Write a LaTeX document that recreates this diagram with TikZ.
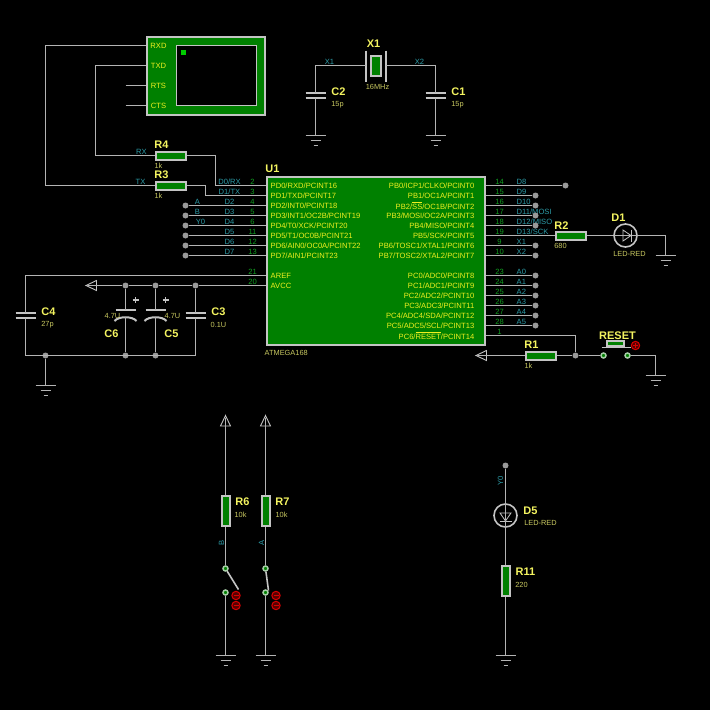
\documentclass[tikz,border=0pt]{standalone}
\usepackage{fontspec}
\setmainfont{Liberation Sans}
\definecolor{wirec}{HTML}{B4B4B4}
\definecolor{edgec}{HTML}{C4C4C4}
\definecolor{boardc}{HTML}{008000}
\definecolor{refc}{HTML}{F4F460}
\definecolor{valc}{HTML}{C8C860}
\definecolor{netc}{HTML}{2C9CA8}
\definecolor{numc}{HTML}{10A020}
\definecolor{chipc}{HTML}{F0F020}
\tikzset{
	wire/.style={draw=wirec, line width=1pt},
	res/.style={draw=edgec, fill=boardc, line width=2pt, minimum width=30pt, minimum height=8pt, inner sep=0pt},
	resv/.style={res, minimum width=8pt, minimum height=30pt},
	dot/.style={circle, fill=wirec!85!black, minimum size=6pt, inner sep=0pt},
	pad/.style={circle, draw=edgec!85!green, fill=green!50!black, line width=1.5pt, minimum size=5pt, inner sep=0pt},
	ref/.style={text=refc, font=\bfseries\fontsize{11}{11}\selectfont, inner sep=0pt},
	val/.style={text=valc, font=\fontsize{7.4}{7.4}\selectfont, inner sep=0pt},
	net/.style={text=netc, font=\fontsize{7.6}{7.6}\selectfont, inner sep=0pt},
	num/.style={text=numc, font=\fontsize{7.6}{7.6}\selectfont, inner sep=0pt},
	chiptxt/.style={text=chipc, font=\fontsize{7.6}{7.6}\selectfont, inner sep=0pt},
	gnd/.pic={
		\coordinate (-t) at (0,0);
		\draw[wire] (-10,0) -- (10,0);
		\draw[wire] (-5,5) -- (5,5);
		\draw[wire] (-2,10) -- (2,10);
	},
	capn/.pic={
		\coordinate (-t) at (0,-2.5);
		\coordinate (-b) at (0,2.5);
		\draw[edgec, line width=2pt] (-10,-2.5) -- (10,-2.5);
		\draw[edgec, line width=2pt] (-10,2.5) -- (10,2.5);
		\draw[wirec, line width=1.6pt] (0,-8) -- (0,-2.5);
		\draw[wirec, line width=1.6pt] (0,2.5) -- (0,9);
	},
	pcap/.pic={
		\coordinate (-t) at (0,-3.5);
		\coordinate (-b) at (0,3.5);
		\draw[edgec, line width=2pt] (-10,-3.5) -- (10,-3.5);
		\draw[edgec, line width=2pt] (-11,8) .. controls (-7,3) and (7,3) .. (11,8);
		\draw[wirec, line width=1.6pt] (0,-9) -- (0,-3.5);
		\draw[wirec, line width=1.6pt] (0,3.5) -- (0,12);
		\draw[edgec, line width=1.4pt] (7,-13) -- (13,-13);
		\draw[edgec, line width=1.4pt] (10,-16) -- (10,-10);
	},
	led/.pic={
		\coordinate (-l) at (-12.5,0);
		\coordinate (-r) at (12.5,0);
		\draw[edgec, line width=1.6pt] (0,0) circle (11.5pt);
		\draw[wirec, line width=0.8pt] (-12,0) -- (12,0);
		\draw[edgec, line width=0.8pt] (-2.5,-5.5) -- (5.5,0) -- (-2.5,5.5) -- cycle;
		\draw[edgec, line width=1pt] (5.5,-6) -- (5.5,6);
	},
	term/.pic={
		\coordinate (-t) at (2,0);
		\draw[edgec, line width=0.9pt] (0,0) -- (10.5,-5) -- (10.5,5) -- cycle;
	},
	actb/.pic={
		\draw[red!85!black, fill=red!35!black, line width=1pt] (0,0) circle (4.2pt);
		\draw[red!85!black, line width=0.9pt] (-2.5,0) -- (2.5,0);
	},
	actp/.pic={
		\draw[red!85!black, fill=red!35!black, line width=1pt] (0,0) circle (4.2pt);
		\draw[red!85!black, line width=0.9pt] (-2.5,0) -- (2.5,0);
		\draw[red!85!black, line width=0.9pt] (0,-2.5) -- (0,2.5);
	},
}
\begin{document}
\begin{tikzpicture}[x=1pt, y=-1pt]
	\fill[black] (0,0) rectangle (710,710);
	\useasboundingbox (0,0) rectangle (710,710);
	\begin{scope}[shift={(0.5,0.5)}]

	\node[draw=edgec, fill=boardc, line width=2pt, minimum width=118pt, minimum height=78pt, inner sep=0pt] (V1) at (205,75) {};
	\node[draw=edgec, fill=black, line width=1pt, minimum width=80pt, minimum height=60pt, inner sep=0pt] (scr) at (215.5,75) {};
	\node[fill=green!80!black, minimum size=5pt, inner sep=0pt] (led0) at (183,52) {};
	\node[chiptxt] (rxd) at (158,45) {RXD};
	\node[chiptxt] (txd) at (158,65) {TXD};
	\node[chiptxt] (rts) at (158,85) {RTS};
	\node[chiptxt] (cts) at (158,105) {CTS};
	\coordinate (rxdp) at (145,45);
	\coordinate (txdp) at (145,65);
	\coordinate (rtsp) at (145,85);
	\coordinate (ctsp) at (145,105);
	\coordinate (rtsf) at (125,85);
	\coordinate (ctsf) at (125,105);
	\draw[wire] (rtsf) -- (rtsp);
	\draw[wire] (ctsf) -- (ctsp);

	\node[res] (R4) at (170,155) {};
	\node[res] (R3) at (170,185) {};
	\node[ref] (lR4) at (161,144) {R4};
	\node[ref] (lR3) at (161,174) {R3};
	\node[val] (vR4) at (158,165) {1k};
	\node[val] (vR3) at (158,195) {1k};
	\node[net] (nRX) at (141,151) {RX};
	\node[net] (nTX) at (140,181) {TX};

	\node[draw=edgec, fill=boardc, line width=2pt, minimum width=218pt, minimum height=168pt, inner sep=0pt] (U1) at (375,260) {};
	\node[ref] (lU1) at (272,168) {U1};
	\node[val, anchor=west] (vU1) at (264,352) {ATMEGA168};

	\coordinate (a0) at (45,45);
	\coordinate (a1) at (45,185);
	\coordinate (b0) at (95,65);
	\coordinate (b1) at (95,155);
	\coordinate (c0) at (215,155);
	\coordinate (c1) at (215,185);
	\coordinate (d0) at (205,185);
	\coordinate (d1) at (205,195);
	\draw[wire] (rxdp) -- (a0) -- (a1) -- (R3.west);
	\draw[wire] (txdp) -- (b0) -- (b1) -- (R4.west);
	\draw[wire] (R4.east) -- (c0) -- (c1) -- (c1 -| U1.west);
	\draw[wire] (R3.east) -- (d0) -- (d1) -- (d1 -| U1.west);

	\foreach \y/\pnum/\pnet/\ptxt in {
		185/2/{D0/RX}/{PD0/RXD/PCINT16},
		195/3/{D1/TX}/{PD1/TXD/PCINT17},
		205/4/{D2}/{PD2/INT0/PCINT18},
		215/5/{D3}/{PD3/INT1/OC2B/PCINT19},
		225/6/{D4}/{PD4/T0/XCK/PCINT20},
		235/11/{D5}/{PD5/T1/OC0B/PCINT21},
		245/12/{D6}/{PD6/AIN0/OC0A/PCINT22},
		255/13/{D7}/{PD7/AIN1/PCINT23}} {
		\node[num] (pnl\y) at (252,\y-4) {\pnum};
		\node[net] (ntl\y) at (229,\y-4) {\pnet};
		\node[chiptxt, anchor=west] (txl\y) at (270,\y) {\ptxt};
	}
	\foreach \y in {205,215,...,255} {
		\node[dot] (pl\y) at (185,\y) {};
		\draw[wire] (pl\y) -- (pl\y -| U1.west);
	}
	\node[net] (nA) at (197,201) {A};
	\node[net] (nB) at (197,211) {B};
	\node[net] (nY) at (200,221) {Y0};

	\node[num] (pn21) at (252,271) {21};
	\node[num] (pn20) at (252,281) {20};
	\node[chiptxt, anchor=west] (tAREF) at (270,275) {AREF};
	\node[chiptxt, anchor=west] (tAVCC) at (270,285) {AVCC};

	\foreach \y/\pnum/\pnet/\ptxt in {
		185/14/{D8}/{PB0/ICP1/CLKO/PCINT0},
		195/15/{D9}/{PB1/OC1A/PCINT1},
		205/16/{D10}/{PB2/$\overline{\mbox{SS}}$/OC1B/PCINT2},
		215/17/{D11/MOSI}/{PB3/MOSI/OC2A/PCINT3},
		225/18/{D12/MISO}/{PB4/MISO/PCINT4},
		235/19/{D13/SCK}/{PB5/SCK/PCINT5},
		245/9/{X1}/{PB6/TOSC1/XTAL1/PCINT6},
		255/10/{X2}/{PB7/TOSC2/XTAL2/PCINT7},
		275/23/{A0}/{PC0/ADC0/PCINT8},
		285/24/{A1}/{PC1/ADC1/PCINT9},
		295/25/{A2}/{PC2/ADC2/PCINT10},
		305/26/{A3}/{PC3/ADC3/PCINT11},
		315/27/{A4}/{PC4/ADC4/SDA/PCINT12},
		325/28/{A5}/{PC5/ADC5/SCL/PCINT13},
		335/1/{}/{PC6/$\overline{\mbox{RESET}}$/PCINT14}} {
		\node[num] (pnr\y) at (499,\y-4) {\pnum};
		\node[net, anchor=west] (ntr\y) at (516,\y-4) {\pnet};
		\node[chiptxt, anchor=east] (txr\y) at (474,\y) {\ptxt};
	}
	\foreach \y in {195,205,215,225,245,255,275,285,...,325} {
		\node[dot] (pr\y) at (535,\y) {};
		\draw[wire] (pr\y) -- (pr\y -| U1.east);
	}
	\node[dot] (pr185) at (565,185) {};
	\draw[wire] (pr185) -- (pr185 -| U1.east);

	\node[draw=edgec, fill=boardc, line width=2pt, minimum width=10pt, minimum height=20pt, inner sep=0pt] (X1) at (375,65) {};
	\coordinate (xl0) at (365,50);
	\coordinate (xl1) at (365,81);
	\coordinate (xr0) at (385,50);
	\coordinate (xr1) at (385,81);
	\draw[edgec, line width=2pt] (xl0) -- (xl1);
	\draw[edgec, line width=2pt] (xr0) -- (xr1);
	\coordinate (xw0) at (365,65);
	\coordinate (xw1) at (385,65);
	\node[ref] (lX1) at (373,43) {X1};
	\node[val] (vX1) at (377,86) {16MHz};
	\node[net] (nX1) at (329,61) {X1};
	\node[net] (nX2) at (419,61) {X2};
	\pic (C2) at (315,94.5) {capn};
	\pic (C1) at (435,94.5) {capn};
	\pic (G1) at (315,135) {gnd};
	\pic (G2) at (435,135) {gnd};
	\draw[wire] (xw0) -| (C2-t);
	\draw[wire] (xw1) -| (C1-t);
	\draw[wire] (C2-b) -- (G1-t);
	\draw[wire] (C1-b) -- (G2-t);
	\node[ref] (lC2) at (338,91) {C2};
	\node[val] (vC2) at (337,104) {15p};
	\node[ref] (lC1) at (458,91) {C1};
	\node[val] (vC1) at (457,104) {15p};

	\node[res] (R2) at (570,235) {};
	\coordinate (r2w) at (485,235);
	\pic (D1) at (625,235) {led};
	\pic (G3) at (665,255) {gnd};
	\draw[wire] (r2w) -- (R2.west);
	\draw[wire] (R2.east) -- (D1-l);
	\draw[wire] (D1-r) -| (G3-t);
	\node[ref] (lR2) at (561,225) {R2};
	\node[val] (vR2) at (560,245) {680};
	\node[ref] (lD1) at (618,217) {D1};
	\node[val] (vD1) at (629,253) {LED-RED};

	\node[res] (R1) at (540,355) {};
	\node[dot] (j1) at (575,355) {};
	\coordinate (p1w) at (485,335);
	\pic (T1) at (475.5,355) {term};
	\draw[wire] (T1-t) -- (R1.west);
	\draw[wire] (R1.east) -- (j1);
	\draw[wire] (p1w) -| (j1);
	\node[pad] (sw0) at (603,355) {};
	\node[pad] (sw1) at (627,355) {};
	\pic (G4) at (655,375) {gnd};
	\draw[wire] (j1) -- (sw0);
	\draw[wire] (sw1) -| (G4-t);
	\node[draw=edgec, fill=boardc, line width=1.5pt, minimum width=17pt, minimum height=5pt, inner sep=0pt] (btn) at (615,343) {};
	\coordinate (bt0) at (601,347);
	\coordinate (bt1) at (630,347);
	\draw[edgec, line width=1.5pt] (bt0) -- (bt1);
	\pic at (635,345) {actp};
	\node[ref] (lRST) at (617,335) {RESET};
	\node[ref] (lR1) at (531,344) {R1};
	\node[val] (vR1) at (528,365) {1k};

	\coordinate (w21) at (265,275);
	\coordinate (w20) at (265,285);
	\coordinate (w21l) at (25,275);
	\node[dot] (j2) at (195,285) {};
	\node[dot] (j3) at (155,285) {};
	\node[dot] (j4) at (125,285) {};
	\pic (T2) at (85.5,285) {term};
	\draw[wire] (w20) -- (j2) -- (j3) -- (j4) -- (T2-t);
	\pic (C4) at (25,314.5) {capn};
	\pic (C3) at (195,314.5) {capn};
	\pic (C6) at (125,312.5) {pcap};
	\pic (C5) at (155,312.5) {pcap};
	\node[dot] (j5) at (45,355) {};
	\node[dot] (j6) at (125,355) {};
	\node[dot] (j7) at (155,355) {};
	\coordinate (k0) at (25,355);
	\coordinate (k1) at (195,355);
	\pic (G5) at (45,385) {gnd};
	\draw[wire] (w21) -- (w21l) -- (C4-t);
	\draw[wire] (C4-b) -- (k0) -- (k1) -- (C3-b);
	\draw[wire] (j2) -- (C3-t);
	\draw[wire] (j3) -- (C5-t);
	\draw[wire] (j4) -- (C6-t);
	\draw[wire] (C5-b) -- (j7);
	\draw[wire] (C6-b) -- (j6);
	\draw[wire] (j5) -- (G5-t);
	\node[ref] (lC4) at (48,311) {C4};
	\node[val] (vC4) at (47,324) {27p};
	\node[ref] (lC3) at (218,311) {C3};
	\node[val] (vC3) at (218,324) {0.1U};
	\node[ref] (lC6) at (111,333) {C6};
	\node[val] (vC6) at (112,315) {4.7U};
	\node[ref] (lC5) at (171,333) {C5};
	\node[val] (vC5) at (172,315) {4.7U};

	\pic[rotate=-90] (T3) at (225,415) {term};
	\pic[rotate=-90] (T4) at (265,415) {term};
	\node[resv] (R6) at (225,510) {};
	\node[resv] (R7) at (265,510) {};
	\node[pad] (s0a) at (225,568) {};
	\node[pad] (s0b) at (225,592) {};
	\node[pad] (s1a) at (265,568) {};
	\node[pad] (s1b) at (265,592) {};
	\coordinate (s0e) at (238,589);
	\coordinate (s1e) at (268,590);
	\pic (G6) at (225,655) {gnd};
	\pic (G7) at (265,655) {gnd};
	\draw[wire] (T3-t) -- (R6.north);
	\draw[wire] (T4-t) -- (R7.north);
	\draw[wire] (R6.south) -- (s0a);
	\draw[wire] (R7.south) -- (s1a);
	\draw[wire] (s0b) -- (G6-t);
	\draw[wire] (s1b) -- (G7-t);
	\draw[edgec, line width=1.6pt] (s0a) -- (s0e);
	\draw[edgec, line width=1.6pt] (s1a) -- (s1e);
	\pic at (235.5,595) {actb};
	\pic at (235.5,605) {actb};
	\pic at (275.5,595) {actb};
	\pic at (275.5,605) {actb};
	\node[ref] (lR6) at (242,501) {R6};
	\node[val] (vR6) at (240,514) {10k};
	\node[ref] (lR7) at (282,501) {R7};
	\node[val] (vR7) at (281,514) {10k};
	\node[net, rotate=90] (nB2) at (221,542) {B};
	\node[net, rotate=90] (nA2) at (261,542) {A};

	\node[dot] (y0d) at (505,465) {};
	\pic[rotate=-90] (D5) at (505,515) {led};
	\node[resv] (R11) at (505,580) {};
	\pic (G8) at (505,655) {gnd};
	\draw[wire] (y0d) -- (D5-r);
	\draw[wire] (D5-l) -- (R11.north);
	\draw[wire] (R11.south) -- (G8-t);
	\node[net, rotate=90] (nY2) at (500,480) {Y0};
	\node[ref] (lD5) at (530,510) {D5};
	\node[val] (vD5) at (540,522) {LED-RED};
	\node[ref] (lR11) at (525,571) {R11};
	\node[val] (vR11) at (521,584) {220};
	\end{scope}
\end{tikzpicture}
\end{document}
